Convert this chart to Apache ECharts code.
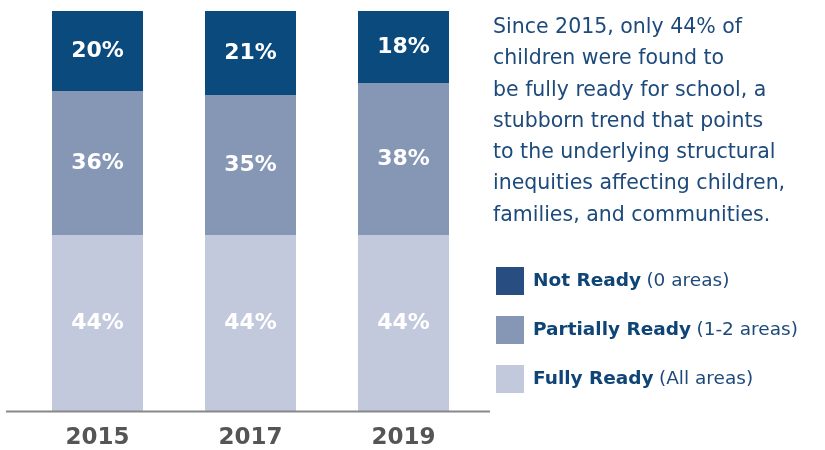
<!DOCTYPE html>
<html>
<head>
<meta charset="utf-8">
<script src="https://cdn.jsdelivr.net/npm/echarts@6/dist/echarts.min.js"></script>
<style>
  html, body { margin: 0; padding: 0; background: #fff; }
  #grafico { width: 825px; height: 450px; }
</style>
</head>
<body>
<div id="grafico"></div>
<script>
var anos = ['2015', '2017', '2019'];
var notReady = [20, 21, 18];
var partiallyReady = [36, 35, 38];
var fullyReady = [44, 44, 44];

var texto = [
    'Since 2015, only 44% of',
    'children were found to',
    'be fully ready for school, a',
    'stubborn trend that points',
    'to the underlying structural',
    'inequities affecting children,',
    'families, and communities.'
];

var legendas = {
    'Not Ready': '(0 areas)',
    'Partially Ready': '(1-2 areas)',
    'Fully Ready': '(All areas)'
};

var fonte = 'DejaVu Sans';

var myChart = echarts.init(document.getElementById('grafico'));

function serie(nome, dados, cor) {
    return {
        name: nome,
        type: 'bar',
        stack: 'total',
        barWidth: 91,
        data: dados,
        itemStyle: { color: cor },
        label: {
            show: true,
            position: 'inside',
            formatter: '{c}%',
            color: '#fff',
            fontFamily: fonte,
            fontSize: 22,
            fontWeight: 'bold'
        },
        emphasis: { disabled: true }
    };
}

var option = {
    animation: false,
    title: {
        text: texto.join('\n'),
        left: 488,
        top: 7,
        textStyle: {
            fontFamily: fonte,
            fontSize: 20.5,
            fontWeight: 'normal',
            lineHeight: 31.3,
            color: '#1d4a7b'
        }
    },
    legend: {
        orient: 'vertical',
        left: 491,
        top: 262,
        itemWidth: 28,
        itemHeight: 28,
        itemGap: 21,
        icon: 'rect',
        selectedMode: false,
        data: [
            { name: 'Not Ready', itemStyle: { color: '#284d80' } },
            { name: 'Partially Ready', itemStyle: { color: '#8597b5' } },
            { name: 'Fully Ready', itemStyle: { color: '#c3c9dc' } }
        ],
        formatter: function (nome) {
            return '{b|' + nome + '} {r|' + legendas[nome] + '}';
        },
        textStyle: {
            rich: {
                b: { fontFamily: fonte, fontSize: 18.5, fontWeight: 'bold', color: '#0f4476', padding: [0, 2, 0, 4] },
                r: { fontFamily: fonte, fontSize: 18.5, color: '#1d4a7b' }
            }
        }
    },
    grid: { left: 21, top: 11, width: 459, height: 400 },
    xAxis: {
        type: 'category',
        data: anos,
        axisTick: { show: false },
        axisLine: { show: false },
        axisLabel: {
            margin: 16,
            color: '#555',
            fontFamily: fonte,
            fontSize: 23,
            fontWeight: 'bold'
        }
    },
    yAxis: {
        type: 'value',
        min: 0,
        max: 100,
        show: false
    },
    graphic: [{
        type: 'line',
        shape: { x1: 6, y1: 411.5, x2: 490, y2: 411.5 },
        style: { stroke: '#888', lineWidth: 2 },
        z: 10
    }],
    series: [
        serie('Fully Ready', fullyReady, '#c3c9dc'),
        serie('Partially Ready', partiallyReady, '#8597b5'),
        serie('Not Ready', notReady, '#0b4a7c')
    ]
};

myChart.setOption(option);
</script>
</body>
</html>
